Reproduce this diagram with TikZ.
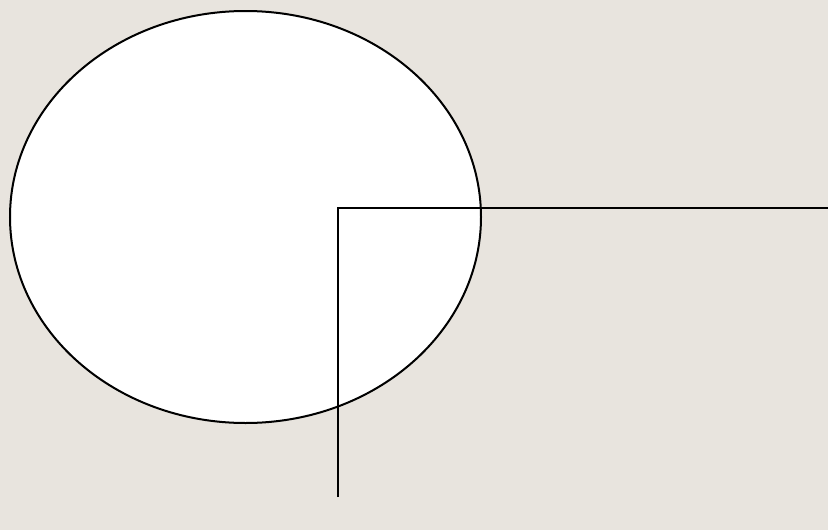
\documentclass[tikz,border=0pt]{standalone}
\usetikzlibrary{shapes.geometric}
\definecolor{bgbeige}{RGB}{232,228,222}
\tikzset{
	blob/.style={ellipse, draw=black, fill=white, line width=2pt, minimum width=471pt, minimum height=412pt, inner sep=0pt},
	wire/.style={draw=black, line width=2pt}
}
\begin{document}
\begin{tikzpicture}[x=1pt, y=-1pt]
			\fill [bgbeige] (0,0) rectangle (828,530);
			\useasboundingbox (0,0) rectangle (828,530);
			
			\node [blob] (oval) at (245.5,217) {};
			
			\coordinate (bottom) at (338,497);
			\coordinate (corner) at (338,208);
			\coordinate (rightend) at (828,208);
			
			\draw [wire] (bottom) -- (corner) -- (rightend);
		\end{tikzpicture}
\end{document}
